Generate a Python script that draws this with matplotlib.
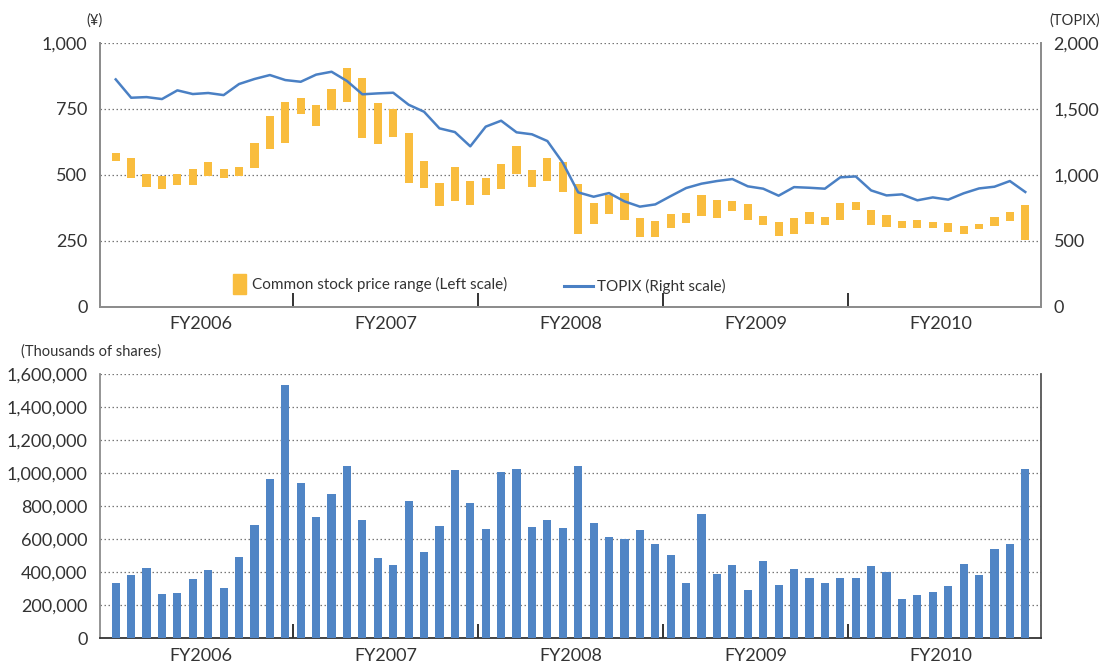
import matplotlib
matplotlib.use("Agg")
import matplotlib.pyplot as plt
import numpy as np
from matplotlib.lines import Line2D
from matplotlib.patches import Rectangle

plt.rcParams['font.family'] = ['Lato', 'DejaVu Sans']

# Fiscal years (12 months each, April-March)
fiscal_years = ["FY2006", "FY2007", "FY2008", "FY2009", "FY2010"]

# Monthly common stock price range (yen)
price_high = [582, 563, 502, 496, 502, 521, 548, 521, 529, 620, 722, 775,
              790, 764, 824, 904, 866, 771, 749, 658, 552, 468, 529, 476,
              487, 540, 609, 518, 563, 548, 466, 394, 424, 432, 337, 326,
              352, 356, 424, 404, 400, 390, 345, 322, 337, 360, 341, 394,
              398, 367, 348, 326, 330, 322, 318, 307, 314, 341, 360, 386]
price_low = [553, 489, 455, 447, 462, 462, 496, 489, 496, 526, 598, 621,
             731, 686, 746, 775, 640, 617, 644, 470, 451, 383, 402, 386,
             424, 447, 504, 455, 477, 436, 277, 314, 352, 330, 265, 265,
             299, 318, 345, 337, 364, 330, 311, 269, 277, 314, 311, 330,
             367, 311, 303, 299, 299, 299, 284, 277, 295, 307, 326, 254]

# Monthly TOPIX close
topix = [1722, 1583, 1588, 1573, 1639, 1611, 1619, 1603, 1687, 1725, 1755, 1717,
         1704, 1758, 1780, 1710, 1609, 1616, 1621, 1530, 1477, 1351, 1323, 1215,
         1364, 1409, 1321, 1306, 1255, 1091, 866, 833, 861, 798, 758, 775,
         838, 899, 932, 952, 967, 912, 894, 841, 906, 901, 894, 980,
         987, 881, 843, 851, 806, 828, 811, 859, 896, 909, 952, 869]

# Monthly trading volume (thousands of shares)
volume = [334, 383, 425, 268, 274, 359, 413, 304, 492, 685, 963, 1531,
          939, 733, 872, 1042, 715, 486, 443, 830, 522, 679, 1018, 818,
          661, 1005, 1024, 673, 715, 667, 1042, 697, 613, 600, 655, 570,
          504, 334, 752, 389, 443, 292, 467, 322, 419, 365, 334, 365,
          365, 437, 401, 238, 262, 280, 316, 449, 383, 540, 570, 1024]
volume = [v * 1000 for v in volume]

orange = "#F9BD3E"
blue_line = "#4A80C4"
blue_bar = "#5085C5"
text_col = "#333333"
spine_gray = "#8c8c8c"

x = np.arange(len(topix))
n_months = len(x)
xlim = (-1.02, n_months - 1 + 1.02)
year_bounds = [12 * k - 0.5 for k in range(1, len(fiscal_years))]
year_centers = [12 * k + 5.5 for k in range(len(fiscal_years))]

fig = plt.figure(figsize=(11.03, 6.63), dpi=100)

# ---------- top: price range + TOPIX ----------
ax1 = fig.add_axes([100 / 1103, 1 - 306.7 / 663, 941 / 1103, 264 / 663])
heights = [h - l for h, l in zip(price_high, price_low)]
ax1.bar(x, heights, bottom=price_low, width=0.53, color=orange, zorder=3)
ax1.set_xlim(*xlim)
ax1.set_ylim(0, 1000)
ax1.set_yticks([0, 250, 500, 750, 1000])
ax1.set_yticklabels(["0", "250", "500", "750", "1,000"])
for yv in [250, 500, 750, 1000]:
    ax1.axhline(yv, color="#777777", lw=0.9, ls=(0, (1.2, 2)), zorder=1)

ax2 = ax1.twinx()
ax2.plot(x, topix, color=blue_line, lw=1.8, zorder=4)
ax2.set_ylim(0, 2000)
ax2.set_yticks([0, 500, 1000, 1500, 2000])
ax2.set_yticklabels(["0", "500", "1,000", "1,500", "2,000"])

for a in (ax1, ax2):
    a.spines["top"].set_visible(False)
    for s in ("left", "right", "bottom"):
        a.spines[s].set_color(spine_gray)
        a.spines[s].set_linewidth(1.3)
    a.tick_params(axis="y", length=0, labelsize=13, colors=text_col, pad=9)
ax1.set_xticks(year_bounds)
ax1.set_xticklabels([])
ax1.tick_params(axis="x", direction="in", length=10, width=1.2, color="#111111")
for c, lab in zip(year_centers, fiscal_years):
    ax1.text(c, -0.035, lab, transform=ax1.get_xaxis_transform(), ha="center",
             va="top", fontsize=13, color=text_col)

fig.text(94 / 1103, 1 - 21 / 663, "(¥)", ha="center", va="center",
         fontsize=10.5, color=text_col)
fig.text(1100 / 1103, 1 - 21 / 663, "(TOPIX)", ha="right", va="center",
         fontsize=10.5, color=text_col)

# legend entries
fig.patches.append(Rectangle((233 / 1103, 1 - 294 / 663), 13 / 1103, 20 / 663,
                             transform=fig.transFigure, color=orange))
fig.text(252 / 1103, 1 - 284.5 / 663, "Common stock price range (Left scale)",
         ha="left", va="center", fontsize=11, color=text_col)
fig.lines.append(Line2D([564 / 1103, 593 / 1103], [1 - 286 / 663, 1 - 286 / 663],
                        transform=fig.transFigure, color=blue_line, lw=2.2))
fig.text(597 / 1103, 1 - 286 / 663, "TOPIX (Right scale)", ha="left",
         va="center", fontsize=11, color=text_col)

# ---------- bottom: trading volume ----------
ax3 = fig.add_axes([100 / 1103, 1 - 638.3 / 663, 941 / 1103, 264.6 / 663])
ax3.bar(x, volume, width=0.53, color=blue_bar, zorder=3)
ax3.set_xlim(*xlim)
ax3.set_ylim(0, 1600000)
yt = list(range(0, 1600001, 200000))
ax3.set_yticks(yt)
ax3.set_yticklabels([f"{v:,}" for v in yt])
for yv in yt[1:]:
    ax3.axhline(yv, color="#777777", lw=0.9, ls=(0, (1.2, 2)), zorder=1)
ax3.spines["top"].set_visible(False)
ax3.spines["left"].set_color(spine_gray)
ax3.spines["left"].set_linewidth(1.3)
ax3.spines["right"].set_color("#555555")
ax3.spines["right"].set_linewidth(1.3)
ax3.spines["bottom"].set_color("#333333")
ax3.spines["bottom"].set_linewidth(1.3)
ax3.tick_params(axis="y", length=0, labelsize=13, colors=text_col, pad=9)
ax3.set_xticks(year_bounds)
ax3.set_xticklabels([])
ax3.tick_params(axis="x", direction="in", length=10, width=1.2, color="#111111")
for c, lab in zip(year_centers, fiscal_years):
    ax3.text(c, -0.035, lab, transform=ax3.get_xaxis_transform(), ha="center",
             va="top", fontsize=13, color=text_col)

fig.text(21 / 1103, 1 - 352 / 663, "(Thousands of shares)", ha="left",
         va="center", fontsize=10.5, color=text_col)

fig.savefig("out.png", dpi=100)
